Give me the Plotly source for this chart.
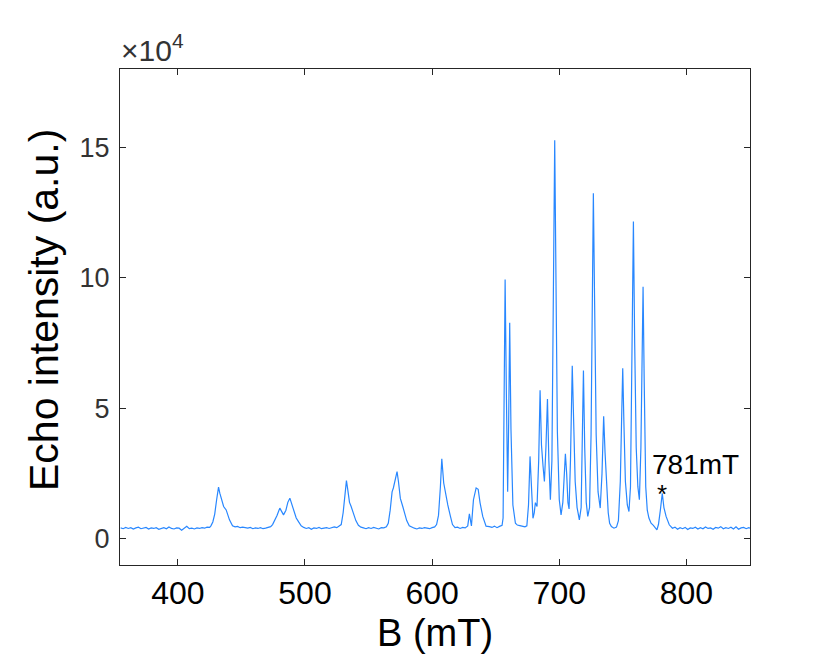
"""
Field-swept echo spectrum
Redraws the echo intensity vs. magnetic field sweep with Plotly
"""

import plotly.graph_objects as go

# magnetic field (mT)
b_field = [
    355, 357, 359, 361, 363, 365, 367, 369, 371, 373, 375, 377, 379, 381, 383, 385,
    387, 389, 391, 393, 395, 397, 399, 401, 403, 405, 407, 409, 411, 413, 415, 417,
    419, 421, 423, 425,
    426, 427.5, 429, 430.5, 432, 433, 434.3, 436, 438, 440.6, 443, 445, 447, 449,
    451, 453, 455, 457, 459, 461, 463, 465, 467, 469, 471, 473,
    474.5, 476, 478, 480.2, 481.5, 483.1, 485, 486.5, 488.1, 489.5, 490.9, 493.1,
    495, 497, 499,
    501, 503, 505, 507, 509, 511, 513, 515, 517, 519, 521, 523, 525, 527,
    528.5, 530, 531.5, 532.6, 533.6, 535, 536.3, 538, 540, 542, 544,
    546, 548, 550, 552, 554, 556, 558, 560, 562, 564,
    565.5, 567, 568.5, 569.5, 571, 572.4, 573.5, 575, 576.9, 578.5, 580, 582, 584,
    586, 588, 590, 592, 594, 596, 598, 600, 602,
    603.5, 605, 606.5, 607.6, 609.1, 610.5, 612.3, 614.4, 616, 618, 620, 622, 624,
    626, 628,
    629.3, 630.9, 632.5, 634.6, 636.2, 637.7, 639.8, 642.4, 645, 647, 649, 651, 653,
    655,
    655.8, 656.6, 657.4, 658.4, 659.4, 660.2, 661.0, 662.0, 663.5, 665.5, 667, 669,
    671, 673, 674.5, 675.8, 677.0, 678.2, 679.3, 680.3, 681.2, 682.5, 683.8, 684.9,
    686.0, 687.2, 688.3, 689.5, 690.7, 691.8, 693.0, 694.2, 695.3, 696.4, 697.4,
    698.5, 700.0, 701.4, 702.8, 704.0, 704.8, 705.8, 706.8, 707.7, 708.8, 710.2,
    711.3, 712.5, 714.0, 715.8, 717.2, 718.1, 719.0, 720.0, 721.2, 722.4, 723.8,
    725.0, 726.0, 726.8, 727.8, 729.0, 730.5, 732.2, 733.6, 734.9, 736.0, 737.3,
    738.5, 739.6, 741, 743, 745, 746.5, 748, 749.2, 749.9, 750.8, 752, 753.5, 754.8,
    756, 757.3, 758.3, 759.3, 760.5, 761.8, 763.0, 764.2, 765.1, 765.9, 766.8, 768.0,
    769.2, 770.5, 772.2, 774, 776.8, 778, 779.5, 781, 782.3, 784, 786.5, 789,
    791, 793, 795, 797, 799, 801, 803, 805, 807, 809, 811, 813, 815, 817, 819, 821,
    823, 825, 827, 829, 831, 833, 835, 837, 839, 841, 843, 845, 847, 849, 850,
]

# echo intensity (a.u.)
echo_intensity = [
    4200, 3900, 4400, 4000, 4300, 3800, 4200, 4500, 3900, 4100, 4400, 3800, 4200, 4000,
    4300, 3700, 4100, 4300, 3900, 4600, 4000, 3800, 4200, 4100, 3300, 4200, 4800, 3900,
    4100, 3800, 4200, 4000, 4300, 4100, 4500, 4400,
    5000, 6500, 9500, 15000, 19800, 17500, 15000, 12400, 11100, 7300, 5000, 4600, 4800,
    4300, 4500, 4200, 4100, 4400, 3900, 4200, 4000, 4300, 3900, 4100, 4300, 4700,
    5500, 6800, 9000, 11800, 10500, 9200, 11000, 14000, 15600, 13500, 11900, 8000,
    6500, 5000, 4400,
    4000, 4300, 3700, 4200, 4000, 4400, 3900, 4100, 4300, 4000, 4200, 4600, 4300, 4800,
    5500, 10000, 17000, 22300, 19000, 14000, 12400, 10000, 7000, 5200, 4500,
    4200, 3900, 4300, 4000, 4400, 4100, 3800, 4300, 4200, 4600,
    6000, 11000, 18000, 19500, 23000, 25800, 22000, 15500, 12400, 9500, 7000, 5000, 4400,
    4100, 3800, 4200, 4000, 4300, 4100, 3900, 4300, 4600,
    5500, 9000, 20000, 30700, 21400, 16900, 13000, 8600, 5500, 4300, 4500, 4000, 4400,
    4200, 5000,
    9600, 5000, 15000, 19500, 19000, 13800, 8600, 4900, 4700, 4400, 4900, 4300, 4800,
    5200,
    8000, 45000, 99400, 55000, 18100, 45000, 82800, 42000, 13000, 6000, 5300, 5100,
    4800, 4600, 5000, 13000, 31600, 15000, 7900, 10000, 13900, 12400, 30000, 56900,
    36000, 28000, 22000, 35000, 53600, 30000, 15000, 30000, 95000, 152700, 99000,
    41000, 15000, 9200, 14000, 26000, 32600, 25000, 14000, 11500, 30000, 66300,
    40000, 22000, 12000, 7300, 12000, 40000, 64500, 35000, 14000, 8600, 12000,
    40000, 95000, 132400, 90000, 40000, 18000, 11800, 25000, 47000, 33000, 18000,
    10000, 6000, 4700, 4100, 4500, 7000, 22000, 50000, 65400, 45000, 22000, 13000, 10500,
    20000, 70000, 121600, 75000, 35000, 20000, 15000, 35000, 75000, 96600, 60000, 20000,
    11000, 8000, 6000, 5200, 3500, 5500, 11000, 17500, 12000, 8600, 5400, 4100,
    4500, 3700, 4300, 3900, 4400, 3600, 4200, 4000, 4500, 3800, 4300, 3900, 4600, 4000,
    4200, 3700, 4400, 4100, 4700, 3900, 4300, 4000, 4500, 3800, 4600, 3700, 4200, 4400,
    3900, 4300, 4100,
]

x_ticks = [400, 500, 600, 700, 800]
y_ticks = [0, 50000, 100000, 150000]
y_tick_labels = ["0", "5", "10", "15"]

# the marked line
marked_field = 781
marked_intensity = 17500
marked_label = "781mT"

FONT = "Arial, 'Liberation Sans', sans-serif"
AXIS_COLOR = "#262626"
LINE_COLOR = "#2887ff"


def build_figure() -> go.Figure:
    fig = go.Figure()
    fig.add_trace(go.Scatter(
        x=b_field,
        y=echo_intensity,
        mode="lines",
        line=dict(color=LINE_COLOR, width=1.2),
        hoverinfo="x+y",
    ))

    # asterisk and label over the 781 mT line
    fig.add_annotation(
        x=marked_field, y=marked_intensity, text="*",
        showarrow=False, yanchor="bottom", yshift=-18,
        font=dict(size=26, color="black", family=FONT),
    )
    fig.add_annotation(
        x=marked_field, y=marked_intensity, text=marked_label,
        showarrow=False, xanchor="left", yanchor="bottom", xshift=-12, yshift=11,
        font=dict(size=28, color="black", family=FONT),
    )
    # exponent of the y axis
    fig.add_annotation(
        xref="paper", yref="paper", x=0, y=1, text="\u00d710<sup>4</sup>",
        showarrow=False, xanchor="left", yanchor="bottom", xshift=-1, yshift=0,
        font=dict(size=30, color="#333333", family=FONT),
    )
    # axis titles
    fig.add_annotation(
        xref="paper", yref="paper", x=0.5, y=0, text="B (mT)",
        showarrow=False, xanchor="center", yanchor="middle", yshift=-68,
        font=dict(size=38, color="black", family=FONT),
    )
    fig.add_annotation(
        xref="paper", yref="paper", x=0, y=0.5, text="Echo intensity (a.u.)",
        showarrow=False, xanchor="center", yanchor="middle", textangle=-90,
        xshift=-76, yshift=7,
        font=dict(size=41, color="black", family=FONT),
    )

    axis_common = dict(
        showline=True, linecolor=AXIS_COLOR, linewidth=1, mirror="ticks",
        ticks="inside", ticklen=6, tickwidth=1, tickcolor=AXIS_COLOR,
        showgrid=False, zeroline=False, automargin=False,
    )
    fig.update_xaxes(
        range=[354.5, 850], tickvals=x_ticks,
        tickfont=dict(size=32, color="black", family=FONT),
        **axis_common,
    )
    fig.update_yaxes(
        range=[-10000, 180000], tickvals=y_ticks, ticktext=y_tick_labels,
        tickfont=dict(size=27, color="#333333", family=FONT),
        ticklabelstandoff=4,
        **axis_common,
    )
    # the page adds an 8px body margin, so the plot box is set 8px up and left
    fig.update_layout(
        width=830, height=656, autosize=False,
        margin=dict(l=112, r=88, t=61, b=99),
        paper_bgcolor="white", plot_bgcolor="white",
        showlegend=False,
        font=dict(family=FONT, color="black"),
    )
    return fig


if __name__ == "__main__":
    fig = build_figure()
    fig.write_html("out.html")
